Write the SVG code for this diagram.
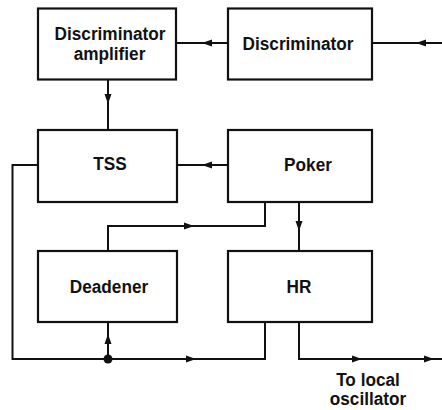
<svg xmlns="http://www.w3.org/2000/svg" width="442" height="410" viewBox="0 0 442 410">
<style>
.box{fill:#fff;stroke:#111;stroke-width:2.2}
.ln{fill:none;stroke:#111;stroke-width:2}
.t{font-family:"Liberation Sans",Arial,sans-serif;font-weight:bold;font-size:18.5px;fill:#111;text-anchor:middle}
</style>
<defs>
<path id="ah" d="M0,0 L-10,-3.5 L-10,3.5 Z" fill="#111"/>
</defs>
<rect width="442" height="410" fill="#fff"/>
<g id="connectors">
<path class="ln" d="M228,43 H176"/>
<use href="#ah" transform="translate(202,43) rotate(180)"/>
<path class="ln" d="M442,43 H372"/>
<use href="#ah" transform="translate(416,43) rotate(180)"/>
<path class="ln" d="M108,79 V130"/>
<use href="#ah" transform="translate(108,104) rotate(90)"/>
<path class="ln" d="M228,165 H177"/>
<use href="#ah" transform="translate(202,165) rotate(180)"/>
<path class="ln" d="M265,202 V226 H108 V251"/>
<use href="#ah" transform="translate(194,226)"/>
<path class="ln" d="M299,202 V251"/>
<use href="#ah" transform="translate(299,231) rotate(90)"/>
<path class="ln" d="M38,165 H12.5 V359 H265 V322"/>
<use href="#ah" transform="translate(196,359)"/>
<path class="ln" d="M108,359 V322"/>
<use href="#ah" transform="translate(108,334) rotate(-90)"/>
<circle cx="108" cy="359" r="4.5" fill="#111"/>
<path class="ln" d="M299,322 V359 H442"/>
<use href="#ah" transform="translate(362,359)"/>
<use href="#ah" transform="translate(434,359)"/>
</g>
<g id="discriminator-amplifier">
<rect class="box" x="38" y="8.5" width="138" height="71"/>
<text class="t" transform="translate(110,40) scale(0.93,1)">Discriminator</text>
<text class="t" transform="translate(109.5,60) scale(0.93,1)">amplifier</text>
</g>
<g id="discriminator">
<rect class="box" x="228" y="8.5" width="144" height="71"/>
<text class="t" transform="translate(298,50) scale(0.93,1)">Discriminator</text>
</g>
<g id="tss">
<rect class="box" x="38" y="130" width="139" height="72"/>
<text class="t" transform="translate(110,169.5) scale(0.93,1)">TSS</text>
</g>
<g id="poker">
<rect class="box" x="228" y="130" width="144" height="72"/>
<text class="t" transform="translate(308,170.5) scale(0.93,1)">Poker</text>
</g>
<g id="deadener">
<rect class="box" x="38" y="251" width="139" height="71"/>
<text class="t" transform="translate(109,293) scale(0.93,1)">Deadener</text>
</g>
<g id="hr">
<rect class="box" x="228" y="251" width="144" height="71"/>
<text class="t" transform="translate(299,292.5) scale(0.93,1)">HR</text>
</g>
<g id="label">
<text class="t" transform="translate(368,386) scale(0.93,1)">To local</text>
<text class="t" transform="translate(368,405) scale(0.93,1)">oscillator</text>
</g>
</svg>
